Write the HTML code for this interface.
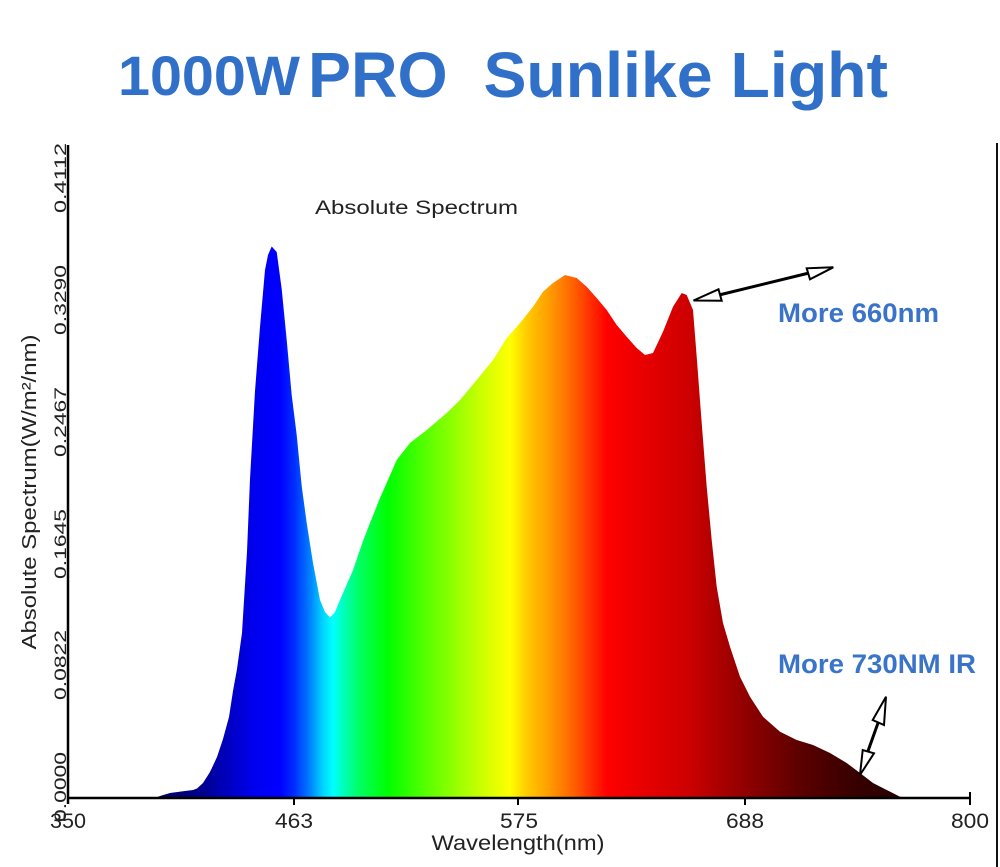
<!DOCTYPE html>
<html>
<head>
<meta charset="utf-8">
<style>
html,body{margin:0;padding:0;background:#fff;}
svg{display:block;}
</style>
</head>
<body>
<svg width="1000" height="867" viewBox="0 0 1000 867" xmlns="http://www.w3.org/2000/svg">
<defs>
<linearGradient id="spec" gradientUnits="userSpaceOnUse" x1="0" y1="0" x2="1000" y2="0">
<stop offset="0.150" stop-color="#000058"/>
<stop offset="0.200" stop-color="#00008a"/>
<stop offset="0.230" stop-color="#0000c4"/>
<stop offset="0.255" stop-color="#0000f0"/>
<stop offset="0.280" stop-color="#0000ff"/>
<stop offset="0.295" stop-color="#0030ff"/>
<stop offset="0.310" stop-color="#0080ff"/>
<stop offset="0.322" stop-color="#00d0ff"/>
<stop offset="0.333" stop-color="#00ffff"/>
<stop offset="0.345" stop-color="#00ffb0"/>
<stop offset="0.360" stop-color="#00ff60"/>
<stop offset="0.388" stop-color="#00ff00"/>
<stop offset="0.430" stop-color="#60ff00"/>
<stop offset="0.480" stop-color="#c8ff00"/>
<stop offset="0.510" stop-color="#ffff00"/>
<stop offset="0.528" stop-color="#ffc800"/>
<stop offset="0.548" stop-color="#ffa000"/>
<stop offset="0.570" stop-color="#ff6a00"/>
<stop offset="0.590" stop-color="#ff3000"/>
<stop offset="0.607" stop-color="#ff0000"/>
<stop offset="0.650" stop-color="#e40000"/>
<stop offset="0.690" stop-color="#cc0000"/>
<stop offset="0.720" stop-color="#aa0000"/>
<stop offset="0.760" stop-color="#820000"/>
<stop offset="0.800" stop-color="#5c0000"/>
<stop offset="0.850" stop-color="#3a0000"/>
<stop offset="0.910" stop-color="#200000"/>
</linearGradient>
</defs>

<!-- Title -->
<text x="118" y="95" font-family="Liberation Sans, Arial, sans-serif" font-weight="bold" font-size="56" fill="#3170c8" textLength="182" lengthAdjust="spacingAndGlyphs">1000W</text>
<text x="308" y="97" font-family="Liberation Sans, Arial, sans-serif" font-weight="bold" font-size="64" fill="#3170c8" textLength="580" lengthAdjust="spacingAndGlyphs" xml:space="preserve">PRO  Sunlike Light</text>

<!-- Spectrum fill -->
<path fill="url(#spec)" d="M155,798 L160,796 L170,793 L185,791 L193,790 L197,788.5 L203,783 L210,772 L217,757 L223,739 L229,717 L233,691 L237,669 L242,633 L247,552 L250,479 L255,391 L260,327 L265,270 L268,255 L271.7,246.5 L276.7,252 L281.7,289 L286.7,340 L291.7,395 L296.7,435 L301.7,486 L306.7,523 L313,563 L320,600 L325,612 L330,617.5 L335,612 L340,600 L353,570 L363,541 L370,523 L380,498 L388,480 L396.7,460 L410,443 L426.7,430 L446.7,413 L460,400 L476.7,380 L493,360 L506.7,338 L520,323 L533,306.7 L543,291.7 L553,283 L565,275 L576.7,278 L586.7,286.7 L596.7,298 L606.7,310 L616.7,325 L626.7,336.7 L636.7,348 L645,355 L653,353 L663,331.7 L673,306.7 L681.7,293 L686.7,295 L693,310 L696.7,356.7 L701.7,423 L706.7,486.7 L711.7,540 L716.7,586.7 L723,623 L730,646.7 L740,676.7 L750,696.7 L763,716.7 L780,731.7 L796.7,740 L813,745 L830,753 L846.7,763 L860,773 L873,783 L886.7,790 L900,796.7 L913,798 Z"/>

<!-- Axes -->
<line x1="68" y1="145" x2="68" y2="804" stroke="#000" stroke-width="2.5"/>
<line x1="67" y1="798" x2="971" y2="798" stroke="#000" stroke-width="2.5"/>
<line x1="294" y1="798" x2="294" y2="805" stroke="#000" stroke-width="2"/>
<line x1="518" y1="798" x2="518" y2="805" stroke="#000" stroke-width="2"/>
<line x1="745" y1="798" x2="745" y2="805" stroke="#000" stroke-width="2"/>
<line x1="970" y1="792" x2="970" y2="805" stroke="#000" stroke-width="2"/>
<line x1="997" y1="143" x2="997" y2="867" stroke="#111" stroke-width="2"/>

<!-- Y tick labels -->
<g font-family="Liberation Sans, Arial, sans-serif" font-size="17" fill="#222" text-anchor="middle">
<text transform="translate(66,178) rotate(-90)" textLength="70" lengthAdjust="spacingAndGlyphs">0.4112</text>
<text transform="translate(66,300) rotate(-90)" textLength="70" lengthAdjust="spacingAndGlyphs">0.3290</text>
<text transform="translate(66,422) rotate(-90)" textLength="70" lengthAdjust="spacingAndGlyphs">0.2467</text>
<text transform="translate(66,544) rotate(-90)" textLength="70" lengthAdjust="spacingAndGlyphs">0.1645</text>
<text transform="translate(66,665) rotate(-90)" textLength="70" lengthAdjust="spacingAndGlyphs">0.0822</text>
<text transform="translate(66,787) rotate(-90)" textLength="70" lengthAdjust="spacingAndGlyphs">0.0000</text>
</g>

<!-- Y axis title -->
<text transform="translate(36,492) rotate(-90)" font-family="Liberation Sans, Arial, sans-serif" font-size="20" fill="#222" text-anchor="middle" textLength="315" lengthAdjust="spacingAndGlyphs">Absolute Spectrum(W/m²/nm)</text>

<!-- X tick labels -->
<g font-family="Liberation Sans, Arial, sans-serif" font-size="21" fill="#222" text-anchor="middle">
<text x="68" y="828" textLength="36" lengthAdjust="spacingAndGlyphs">350</text>
<text x="294" y="828" textLength="38" lengthAdjust="spacingAndGlyphs">463</text>
<text x="519" y="828" textLength="38" lengthAdjust="spacingAndGlyphs">575</text>
<text x="745" y="828" textLength="38" lengthAdjust="spacingAndGlyphs">688</text>
<text x="970" y="828" textLength="38" lengthAdjust="spacingAndGlyphs">800</text>
</g>
<text x="518" y="850" font-family="Liberation Sans, Arial, sans-serif" font-size="21" fill="#222" text-anchor="middle" textLength="173" lengthAdjust="spacingAndGlyphs">Wavelength(nm)</text>

<!-- Chart inner title -->
<text x="315" y="214" font-family="Liberation Sans, Arial, sans-serif" font-size="19" fill="#222" textLength="203" lengthAdjust="spacingAndGlyphs">Absolute Spectrum</text>

<!-- Annotations -->
<text x="778" y="322" font-family="Liberation Sans, Arial, sans-serif" font-weight="bold" font-size="27" fill="#3a74c9" textLength="161" lengthAdjust="spacingAndGlyphs">More 660nm</text>
<text x="778" y="673" font-family="Liberation Sans, Arial, sans-serif" font-weight="bold" font-size="27" fill="#3a74c9" textLength="198" lengthAdjust="spacingAndGlyphs">More 730NM IR</text>

<!-- Arrow 1 -->
<line x1="719" y1="295" x2="809" y2="273" stroke="#000" stroke-width="3"/>
<polygon points="693.5,300.5 718.5,289.3 721.7,300.7" fill="#fff" stroke="#000" stroke-width="2" stroke-linejoin="miter"/>
<polygon points="833.3,267.3 806.7,268.3 810,279.3" fill="#fff" stroke="#000" stroke-width="2" stroke-linejoin="miter"/>

<!-- Arrow 2 -->
<line x1="878" y1="723" x2="868" y2="751" stroke="#000" stroke-width="3"/>
<polygon points="886,696.7 872.7,720 884,725" fill="#fff" stroke="#000" stroke-width="2"/>
<polygon points="860,775 862.7,750 874,753.3" fill="#fff" stroke="#000" stroke-width="2"/>
</svg>
</body>
</html>
